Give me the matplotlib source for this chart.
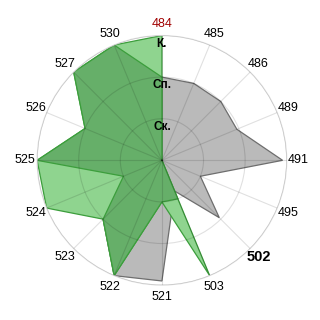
import numpy as np
import matplotlib
matplotlib.use("Agg")
import matplotlib.pyplot as plt

plt.rcParams['font.family'] = ['Liberation Sans', 'DejaVu Sans']

# категории по часовой стрелке от верха
cats = ['484', '485', '486', '489', '491', '495', '502', '503',
        '521', '522', '523', '524', '525', '526', '527', '530']
# уровни: 1 - Ск., 2 - Сп., 3 - К.
levels = ['Ск.', 'Сп.', 'К.']

gray_vals = [2, 2, 2, 1.95, 2.9, 1, 1.95, 0.8,
             2.9, 3, 2, 2, 2, 2, 2, 2]
light_vals = [3, 0, 0, 0, 0, 0, 0, 3,
              1, 3, 2, 3, 3, 2, 3, 3]
dark_vals = [2, 0, 0, 0, 0, 0, 0, 1,
             1, 3, 2, 1, 3, 2, 3, 3]

n = len(cats)
ang = np.linspace(0, 2 * np.pi, n, endpoint=False)
ang_c = np.append(ang, ang[0])

fig = plt.figure(figsize=(3.2, 3.2), dpi=100)
ax = fig.add_axes([0.116, 0.109, 0.78, 0.78], projection='polar')
ax.set_theta_zero_location('N')
ax.set_theta_direction(-1)

def poly(vals, fc, ec):
    v = np.append(vals, vals[0])
    ax.fill(ang_c, v, facecolor=fc, edgecolor=ec, linewidth=0.9, zorder=2)

poly(gray_vals, '#BABABA', '#6E6E6E')
poly(light_vals, '#8FD48F', '#3C9E3C')
poly(dark_vals, '#66AF69', '#3C9E3C')

ax.set_ylim(0, 3)
ax.set_yticks([1, 2, 3])
ax.set_yticklabels([])
ax.set_xticks(ang)
ax.set_xticklabels(cats, fontsize=9)
ax.set_axisbelow(False)
ax.grid(True, color='k', alpha=0.12, linewidth=0.8)
ax.spines['polar'].set_color('#DDDDDD')
ax.tick_params(axis='x', pad=-2)

for lab in ax.get_xticklabels():
    if lab.get_text() == '484':
        lab.set_color('#A00000')
    if lab.get_text() == '502':
        lab.set_fontweight('bold')
        lab.set_fontsize(10.5)

for i, l in enumerate(levels):
    ax.text(0, i + 0.8, l, ha='center', va='center', fontsize=8.5,
            fontweight='bold', zorder=5)

fig.savefig('out.png', dpi=100)
